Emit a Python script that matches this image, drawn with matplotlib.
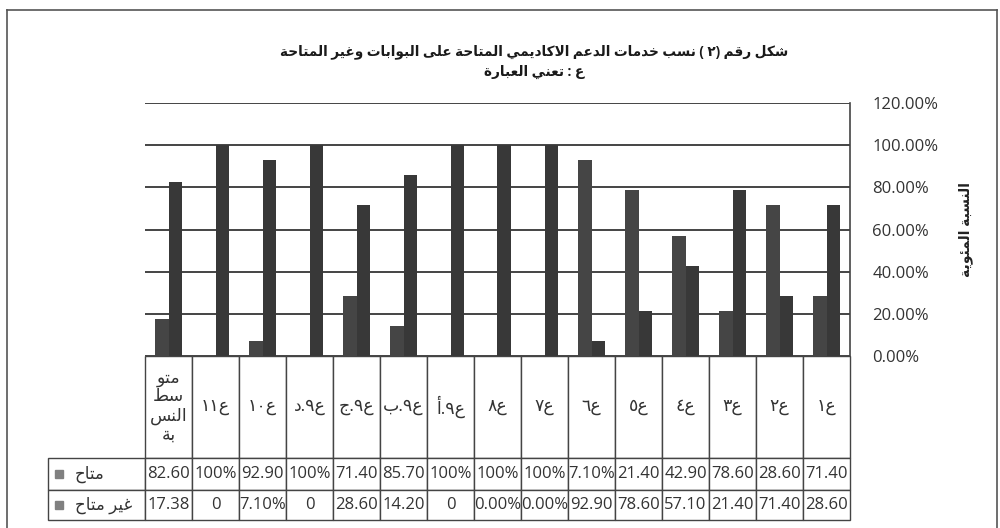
import re
import numpy as np
import matplotlib
matplotlib.use("Agg")
import matplotlib.pyplot as plt
from matplotlib.ticker import PercentFormatter
from matplotlib.lines import Line2D
from matplotlib.patches import Rectangle

plt.rcParams['font.family'] = ['Open Sans', 'DejaVu Sans']

# Data (logical order, first category is the rightmost one)
categories = ['ع١', 'ع٢', 'ع٣', 'ع٤', 'ع٥', 'ع٦', 'ع٧', 'ع٨',
              'ع٩.أ', 'ع٩.ب', 'ع٩.ج', 'ع٩.د', 'ع١٠', 'ع١١', 'متو\nسط\nالنس\nبة']
available = [71.40, 28.60, 78.60, 42.90, 21.40, 7.10, 100, 100,
             100, 85.70, 71.40, 100, 92.90, 100, 82.60]
not_available = [28.60, 71.40, 21.40, 57.10, 78.60, 92.90, 0, 0,
                 0, 14.20, 28.60, 0, 7.10, 0, 17.38]
available_txt = ['71.40', '28.60', '78.60', '42.90', '21.40', '7.10%', '100%', '100%',
                 '100%', '85.70', '71.40', '100%', '92.90', '100%', '82.60']
not_available_txt = ['28.60', '71.40', '21.40', '57.10', '78.60', '92.90', '0.00%', '0.00%',
                     '0', '14.20', '28.60', '0', '7.10%', '0', '17.38']
series_names = ['متاح', 'غير متاح']
title_txt = 'شكل رقم (٢ ) نسب خدمات الدعم الاكاديمي المتاحة على البوابات وغير المتاحة\nع : تعني العبارة'
ylabel_txt = 'النسبة المئوية'
yticks = [0, 0.2, 0.4, 0.6, 0.8, 1.0, 1.2]

# matplotlib has no arabic shaping / bidi -> do it by hand
FORMS = {  # isolated, final, initial, medial
    'ا': ('\uFE8D', '\uFE8E', None, None), 'أ': ('\uFE83', '\uFE84', None, None),
    'ب': ('\uFE8F', '\uFE90', '\uFE91', '\uFE92'), 'ة': ('\uFE93', '\uFE94', None, None),
    'ت': ('\uFE95', '\uFE96', '\uFE97', '\uFE98'), 'ج': ('\uFE9D', '\uFE9E', '\uFE9F', '\uFEA0'),
    'ح': ('\uFEA1', '\uFEA2', '\uFEA3', '\uFEA4'), 'خ': ('\uFEA5', '\uFEA6', '\uFEA7', '\uFEA8'),
    'د': ('\uFEA9', '\uFEAA', None, None), 'ر': ('\uFEAD', '\uFEAE', None, None),
    'س': ('\uFEB1', '\uFEB2', '\uFEB3', '\uFEB4'), 'ش': ('\uFEB5', '\uFEB6', '\uFEB7', '\uFEB8'),
    'ط': ('\uFEC1', '\uFEC2', '\uFEC3', '\uFEC4'), 'ع': ('\uFEC9', '\uFECA', '\uFECB', '\uFECC'),
    'غ': ('\uFECD', '\uFECE', '\uFECF', '\uFED0'), 'ق': ('\uFED5', '\uFED6', '\uFED7', '\uFED8'),
    'ك': ('\uFED9', '\uFEDA', '\uFEDB', '\uFEDC'), 'ل': ('\uFEDD', '\uFEDE', '\uFEDF', '\uFEE0'),
    'م': ('\uFEE1', '\uFEE2', '\uFEE3', '\uFEE4'), 'ن': ('\uFEE5', '\uFEE6', '\uFEE7', '\uFEE8'),
    'و': ('\uFEED', '\uFEEE', None, None), 'ى': ('\uFEEF', '\uFEF0', None, None),
    'ي': ('\uFEF1', '\uFEF2', '\uFEF3', '\uFEF4'), 'ئ': ('\uFE89', '\uFE8A', '\uFE8B', '\uFE8C'),
}
LAMALEF = {'ا': ('\uFEFB', '\uFEFC'), 'أ': ('\uFEF7', '\uFEF8')}


def shape(s):
    res = []
    i = 0
    while i < len(s):
        c = s[i]
        if c not in FORMS:
            res.append(c)
            i += 1
            continue
        prev = s[i - 1] if i > 0 else None
        joins_prev = prev in FORMS and FORMS[prev][2] is not None
        if c == 'ل' and i + 1 < len(s) and s[i + 1] in LAMALEF:
            res.append(LAMALEF[s[i + 1]][1 if joins_prev else 0])
            i += 2
            continue
        nxt = s[i + 1] if i + 1 < len(s) else None
        joins_next = FORMS[c][2] is not None and nxt in FORMS
        iso, fin, ini, med = FORMS[c]
        if joins_prev and joins_next:
            res.append(med)
        elif joins_prev:
            res.append(fin)
        elif joins_next:
            res.append(ini)
        else:
            res.append(iso)
        i += 1
    return ''.join(res)


def ar(text):
    mirror = {'(': ')', ')': '('}
    lines = []
    for line in text.split('\n'):
        tokens = re.findall(r'[0-9\u0660-\u0669]+|[^0-9\u0660-\u0669]', shape(line))
        lines.append(''.join(mirror.get(t, t) for t in tokens[::-1]))
    return '\n'.join(lines)


fig = plt.figure(figsize=(10, 5.28), dpi=100)
ax = fig.add_axes([0.145, 0.3258, 0.705, 0.479])

x = np.arange(len(categories))
w = 0.277
ax.bar(x - w / 2, np.array(available) / 100, w, color='#383838', zorder=3)
ax.bar(x + w / 2, np.array(not_available) / 100, w, color='#454545', zorder=3)

ax.set_xlim(-0.5, len(categories) - 0.5)
ax.invert_xaxis()
ax.set_ylim(0, 1.2)
ax.set_yticks(yticks)
ax.yaxis.set_major_formatter(PercentFormatter(1.0, decimals=2))
ax.yaxis.tick_right()
ax.tick_params(axis='y', length=0, pad=16, labelsize=12, labelcolor='#333333')
ax.set_xticks([])
ax.grid(axis='y', color='#444444', linewidth=1.4, zorder=0)
for s in ['top', 'left', 'bottom']:
    ax.spines[s].set_visible(False)
ax.spines['right'].set_color('#444444')
ax.spines['right'].set_linewidth(1.2)

ax.yaxis.set_label_position('right')
ax.set_ylabel(ar(ylabel_txt), fontsize=10, fontweight='bold', labelpad=14, color='#222222')

fig.text(0.534, 0.884, ar(title_txt), ha='center', va='center', fontsize=9.8,
         fontweight='bold', linespacing=1.55, color='#1a1a1a')

# data table under the chart (first column holds the series names)
col_labels = [''] + [ar(c) for c in categories][::-1]
rows = [[''] + available_txt[::-1], [''] + not_available_txt[::-1]]
tab = ax.table(cellText=rows, colLabels=col_labels, cellLoc='center',
               bbox=[-97 / 705, -164 / 253, 1 + 97 / 705, 164 / 253])
tab.auto_set_font_size(False)
tab.set_fontsize(12)
for (r, c), cell in tab.get_celld().items():
    cell.set_edgecolor('#444444')
    cell.set_linewidth(1.0)
    cell.get_text().set_color('#333333')
    cell.set_height(102 if r == 0 else (32 if r == 1 else 30))
    cell.set_width(97 if c == 0 else 47)
    if r == 0:
        cell.get_text().set_linespacing(1.2)
        cell.get_text().set_fontsize(12.5)
        if c == 0:
            cell.visible_edges = ''

# row labels with legend squares
for i, name in enumerate(series_names):
    yc = 1 - (474 + 31 * i) / 528
    fig.patches.append(Rectangle((55 / 1000, yc - 4 / 528), 8 / 1000, 8 / 528,
                                 transform=fig.transFigure, color='#808080'))
    fig.text(75 / 1000, yc, ar(name), ha='left', va='center', fontsize=12, color='#333333')

# outer frame
for xs, ys in [([7, 997], [10, 10]), ([7, 7], [10, 528]), ([997, 997], [10, 528])]:
    fig.lines.append(Line2D(np.array(xs) / 1000, 1 - np.array(ys) / 528,
                            transform=fig.transFigure, color='#555555', linewidth=1.2))

fig.savefig('out.png', dpi=100)
plt.close(fig)
